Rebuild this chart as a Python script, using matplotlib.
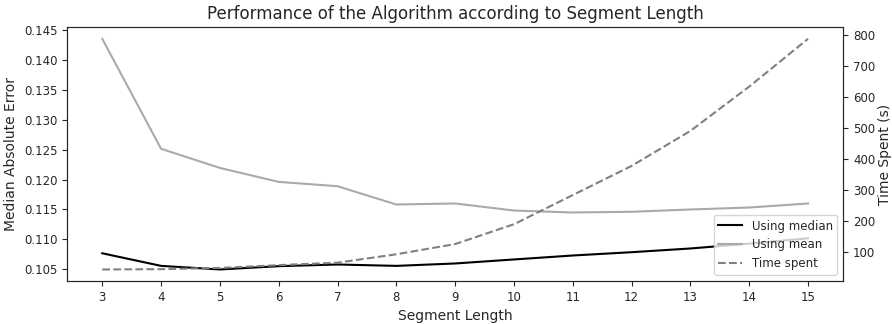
import matplotlib
matplotlib.use('Agg')
import matplotlib.pyplot as plt

segment_length = [3, 4, 5, 6, 7, 8, 9, 10, 11, 12, 13, 14, 15]
mae_median = [0.1077, 0.1056, 0.1050, 0.10555, 0.10583, 0.1056, 0.1060,
              0.10667, 0.10733, 0.10788, 0.1085, 0.1093, 0.1102]
mae_mean = [0.14345, 0.12512, 0.12193, 0.1196, 0.11888, 0.11583, 0.1160,
            0.11483, 0.1145, 0.11462, 0.1150, 0.11533, 0.1160]
time_spent = [44, 45, 49, 58, 66, 93, 126, 190, 284, 378, 491, 634, 788]


def plot_performance():
    """Plot error and time spent against segment length."""
    plt.rcParams['text.color'] = '#262626'
    plt.rcParams['axes.labelcolor'] = '#262626'
    plt.rcParams['xtick.color'] = '#262626'
    plt.rcParams['ytick.color'] = '#262626'
    plt.rcParams['axes.edgecolor'] = '#262626'

    fig, ax1 = plt.subplots(figsize=(8.92, 3.24), dpi=100)
    fig.subplots_adjust(left=0.0751, right=0.9454, top=0.9157, bottom=0.1327)

    l1, = ax1.plot(segment_length, mae_median, color='black', lw=1.5, label='Using median')
    l2, = ax1.plot(segment_length, mae_mean, color='#aaaaaa', lw=1.5, label='Using mean')
    ax1.set_xticks(segment_length)
    ax1.set_xlabel('Segment Length', fontsize=10)
    ax1.set_ylabel('Median Absolute Error', fontsize=10)
    ax1.tick_params(labelsize=8.5)

    ax2 = ax1.twinx()
    l3, = ax2.plot(segment_length, time_spent, color='gray', ls='--', lw=1.5, label='Time spent')
    ax2.set_ylabel('Time Spent (s)', fontsize=10, labelpad=2)
    ax2.tick_params(labelsize=8.5)

    ax2.legend(handles=[l1, l2, l3], loc='lower right', fontsize=8.5)
    ax1.set_title('Performance of the Algorithm according to Segment Length', fontsize=12)

    fig.savefig('out.png', dpi=100)
    plt.close(fig)


if __name__ == "__main__":
    plot_performance()
